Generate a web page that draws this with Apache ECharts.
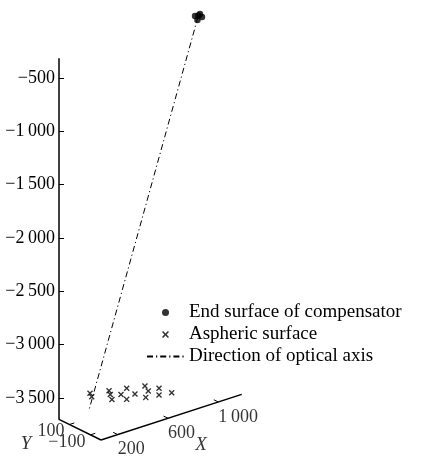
<!DOCTYPE html>
<html>
<head>
<meta charset="utf-8">
<script src="https://cdn.jsdelivr.net/npm/echarts@6/dist/echarts.min.js"></script>
<style>
html,body{margin:0;padding:0;background:#fff;}
#chart{width:428px;height:457px;}
</style>
</head>
<body>
<div id="chart"></div>
<script>
// ---------- data (3D values) ----------
const seriesNames = ['End surface of compensator', 'Aspheric surface', 'Direction of optical axis'];

const compensatorX = [982, 1009, 1037, 1001, 1021];
const compensatorY = [0, 0, 0, 0, 0];
const compensatorZ = [-172, -177, -202, -217, -168];

const asphericX = [261, 236, 378, 347, 306, 398, 486, 378, 470, 596, 563, 489, 642, 576, 659];
const asphericY = [137, 91, 96, 47, -18, 6, 57, -72, -41, 15, -56, -121, -64, -143, -164];
const asphericZ = [-3500, -3500, -3500, -3500, -3500, -3500, -3500, -3500, -3500, -3500, -3500, -3500, -3500, -3500, -3500];

const opticalAxisX = [1005, 222];
const opticalAxisY = [0, 100];
const opticalAxisZ = [-190, -3624];

const xRange = [67, 1186];
const yRange = [-200, 200];
const zRange = [-3700, -320];

const xTicks = [200, 600, 1000];
const yTicks = [100, -100];
const zTicks = [-3500, -3000, -2500, -2000, -1500, -1000, -500];

// ---------- view (oblique projection onto the page) ----------
const VIEW = { xh: 0.12575, xv: 0.04075, yh: -0.105, yv: 0.05175, zpx: 0.10667 };
const GRID_LEFT = 59, GRID_BOTTOM_PX = 419.3, GRID_W = 360;
const gridH = (zRange[1] - zRange[0]) * VIEW.zpx;
const TICK_PX = 5;
const FONT = '"Liberation Serif", "Times New Roman", serif';

// returns [horizontal px offset from the vertical axis, equivalent Z value]
function proj(X, Y, Z) {
  const dx = X - xRange[0], dy = Y - yRange[1];
  return [VIEW.xh * dx + VIEW.yh * dy, Z + (VIEW.xv * dx + VIEW.yv * dy) / VIEW.zpx];
}
function group(n) {
  const s = String(n);
  return s.length > 3 ? s.slice(0, -3) + '\u2009' + s.slice(-3) : s;
}
function fmt(v) { return (v < 0 ? '\u2212' : '') + group(Math.abs(v)); }

const CROSS = 'path://M0,1.6L1.6,0L5,3.4L8.4,0L10,1.6L6.6,5L10,8.4L8.4,10L5,6.6L1.6,10L0,8.4L3.4,5Z';

// axis segments: [h1, v1, h2, v2, width]
const xMin = xRange[0], yMin = yRange[0], yMax = yRange[1], zMin = zRange[0];
const yStepLen = Math.hypot(VIEW.yh, VIEW.yv);   // px per Y unit
const xStepLen = Math.hypot(VIEW.xh, VIEW.xv);   // px per X unit
const segments = [];
function seg(a, b, w) { segments.push([a[0], a[1], b[0], b[1], w]); }
seg(proj(xMin, yMin, zMin), proj(xRange[1], yMin, zMin), 1.5);
seg(proj(xMin, yMin, zMin), proj(xMin, yMax, zMin), 1.5);
xTicks.forEach(t => seg(proj(t, yMin, zMin), proj(t, yMin + TICK_PX / yStepLen, zMin), 1));
yTicks.forEach(t => seg(proj(xMin, t, zMin), proj(xMin + TICK_PX / xStepLen, t, zMin), 1));

const compData = compensatorX.map((x, i) => proj(x, compensatorY[i], compensatorZ[i]));
const asphData = asphericX.map((x, i) => proj(x, asphericY[i], asphericZ[i]));
const axisLineData = opticalAxisX.map((x, i) => proj(x, opticalAxisY[i], opticalAxisZ[i]));

const xLabelData = xTicks.map(t => ({ name: fmt(t), value: proj(t, yMin, zMin) }));
const yLabelData = yTicks.map(t => ({ name: fmt(t), value: proj(xMin, t, zMin) }));

const chart = echarts.init(document.getElementById('chart'), null, { renderer: 'canvas' });
chart.setOption({
  animation: false,
  backgroundColor: '#fff',
  color: ['#000'],
  grid: { left: GRID_LEFT, top: GRID_BOTTOM_PX - gridH, width: GRID_W, height: gridH },
  xAxis: { type: 'value', min: 0, max: GRID_W, show: false },
  yAxis: {
    type: 'value', min: zRange[0], max: zRange[1],
    axisLine: { show: true, lineStyle: { color: '#000', width: 1.5 } },
    axisTick: { show: true, inside: true, length: TICK_PX, customValues: zTicks, lineStyle: { color: '#000', width: 1 } },
    axisLabel: { show: true, customValues: zTicks, formatter: fmt, margin: 4, color: '#000', fontFamily: FONT, fontSize: 18 },
    splitLine: { show: false }
  },
  legend: {
    data: [
      { name: seriesNames[0], icon: 'circle' },
      { name: seriesNames[1], icon: CROSS },
      { name: seriesNames[2], itemStyle: { opacity: 0 } }
    ],
    orient: 'vertical', left: 146, top: 303, padding: 0, itemGap: 3,
    itemWidth: 37, itemHeight: 7, selectedMode: false,
    textStyle: { color: '#000', fontFamily: FONT, fontSize: 19 }
  },
  series: [
    {
      name: seriesNames[2], type: 'line', data: axisLineData, symbol: 'none', clip: false, z: 2,
      itemStyle: { color: '#000' },
      lineStyle: { color: '#000', width: 1, type: [6, 3, 1.2, 3] }
    },
    {
      name: seriesNames[0], type: 'scatter', data: compData, symbol: 'circle', symbolSize: 6.5,
      clip: false, z: 3, itemStyle: { color: '#000' }
    },
    {
      name: seriesNames[1], type: 'scatter', data: asphData, symbol: CROSS, symbolSize: 6,
      clip: false, z: 3, itemStyle: { color: '#000' }
    },
    {
      name: 'axes', type: 'custom', data: segments, clip: false, silent: true, z: 1,
      encode: { x: [0, 2], y: [1, 3] },
      renderItem: function (params, api) {
        const p1 = api.coord([api.value(0), api.value(1)]);
        const p2 = api.coord([api.value(2), api.value(3)]);
        return { type: 'line', shape: { x1: p1[0], y1: p1[1], x2: p2[0], y2: p2[1] },
                 style: { stroke: '#000', lineWidth: api.value(4) } };
      }
    },
    {
      name: 'xLabels', type: 'scatter', data: xLabelData, symbolSize: 0, clip: false, silent: true,
      label: { show: true, formatter: '{b}', position: [0, 6], align: 'left', verticalAlign: 'top',
               color: '#000', fontFamily: FONT, fontSize: 18 }
    },
    {
      name: 'yLabels', type: 'scatter', data: yLabelData, symbolSize: 0, clip: false, silent: true,
      label: { show: true, formatter: '{b}', position: [-5, 7], align: 'right', verticalAlign: 'middle',
               color: '#000', fontFamily: FONT, fontSize: 18 }
    },
    {
      name: 'axisNames', type: 'scatter', symbolSize: 0, clip: false, silent: true,
      data: [
        { name: 'X', value: proj(800, yMin, zMin), label: { position: [8, 35] } },
        { name: 'Y', value: proj(xMin, 0, zMin), label: { position: [-54, 14] } }
      ],
      label: { show: true, formatter: '{b}', align: 'center', verticalAlign: 'middle',
               color: '#000', fontFamily: FONT, fontSize: 19, fontStyle: 'italic' }
    }
  ]
});
</script>
</body>
</html>
